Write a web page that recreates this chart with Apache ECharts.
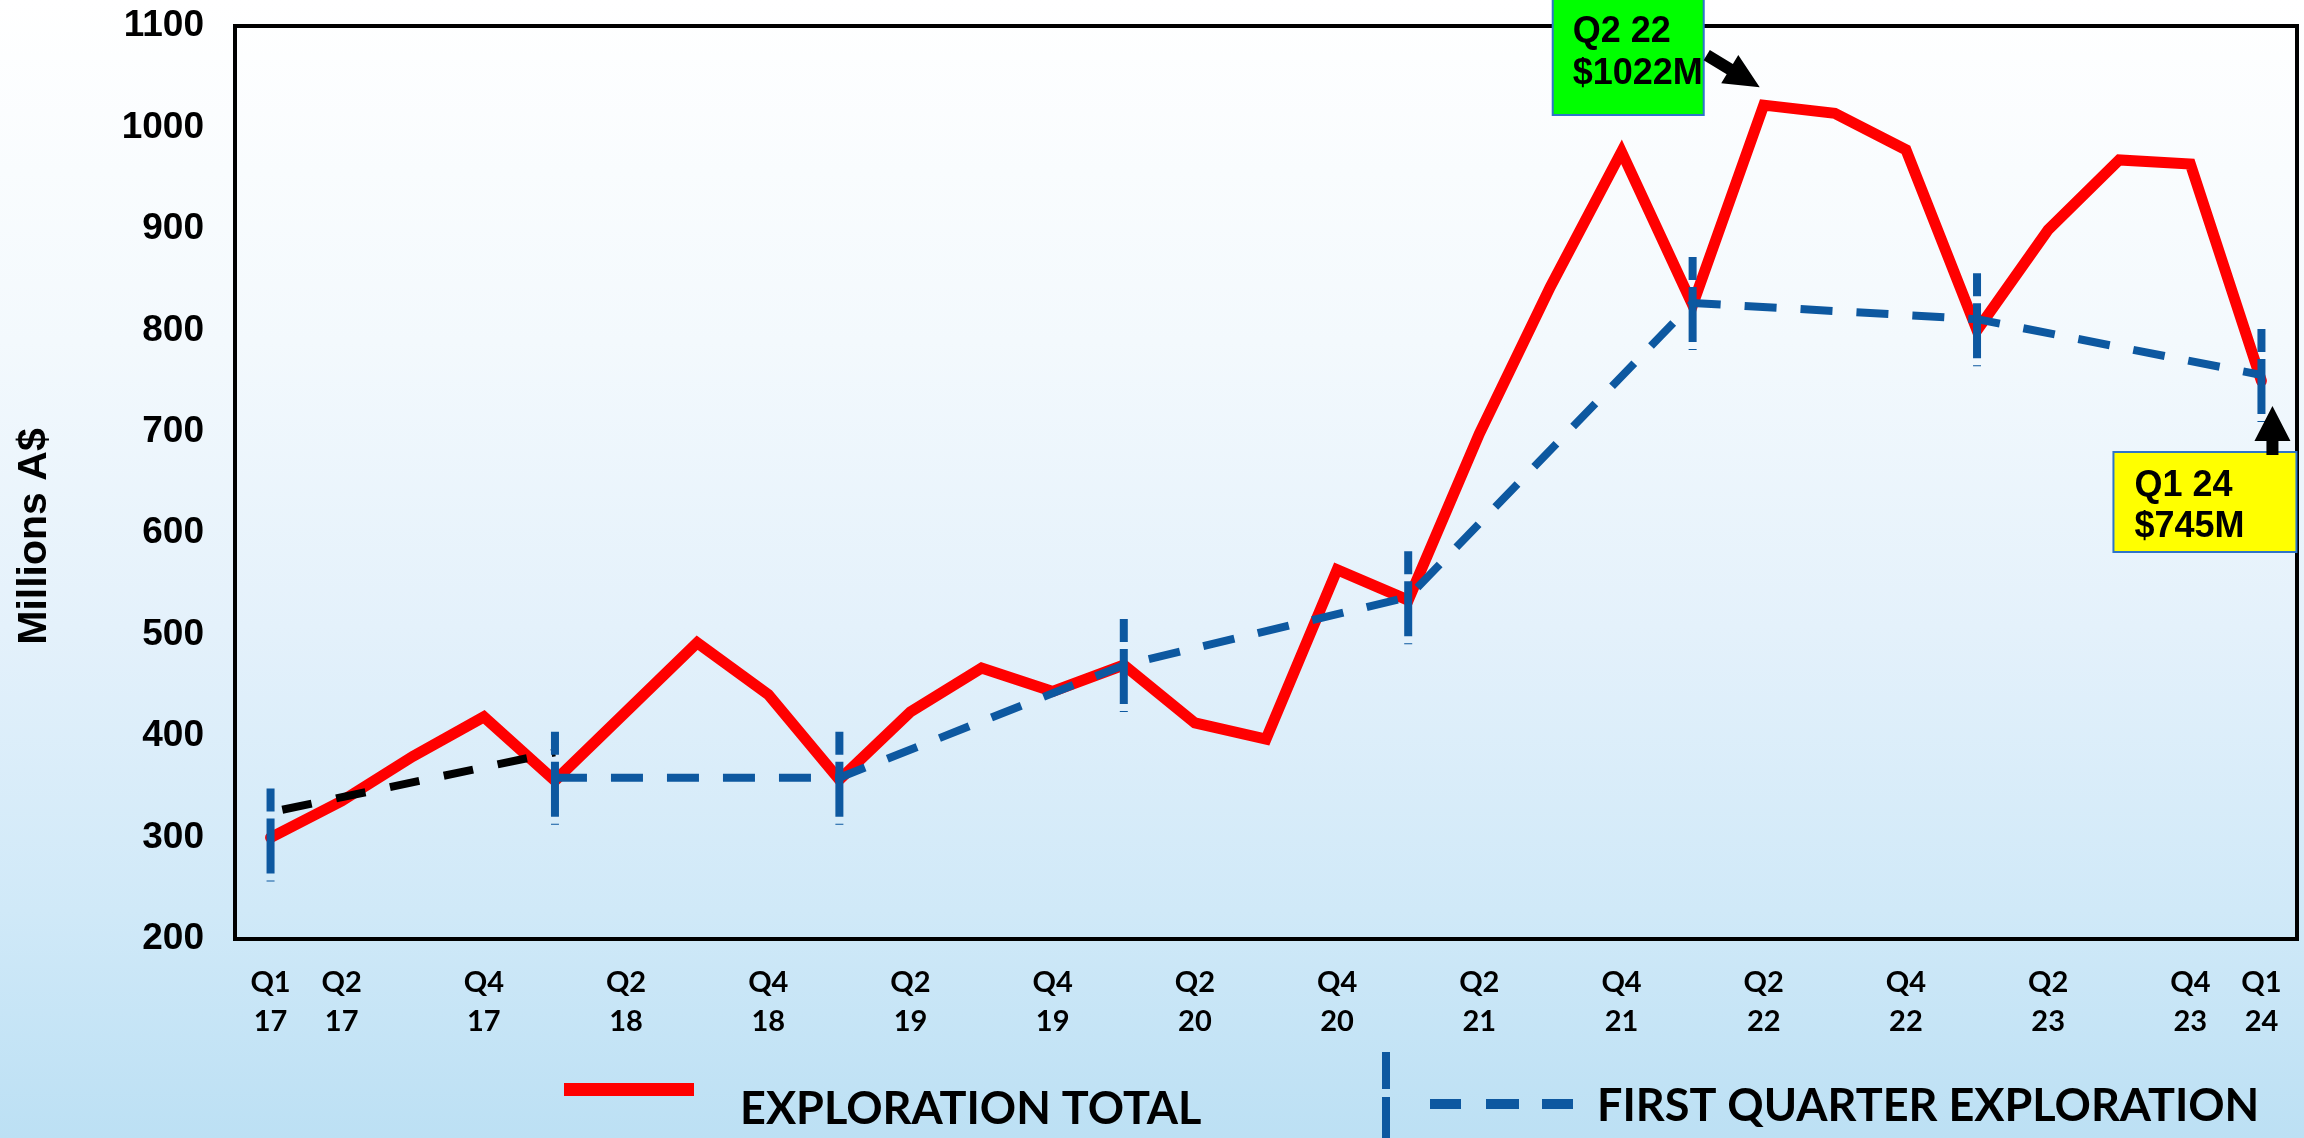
<!DOCTYPE html>
<html>
<head>
<meta charset="utf-8">
<script src="https://cdn.jsdelivr.net/npm/echarts@6/dist/echarts.min.js"></script>
<style>
html,body{margin:0;padding:0;overflow:hidden;background:#fff}
#chart{width:2304px;height:1138px}
</style>
</head>
<body>
<div id="chart"></div>
<script>
// ---- data ----
const categories = ['Q1 17','Q2 17','Q3 17','Q4 17','Q1 18','Q2 18','Q3 18','Q4 18',
  'Q1 19','Q2 19','Q3 19','Q4 19','Q1 20','Q2 20','Q3 20','Q4 20',
  'Q1 21','Q2 21','Q3 21','Q4 21','Q1 22','Q2 22','Q3 22','Q4 22',
  'Q1 23','Q2 23','Q3 23','Q4 23','Q1 24'];
const shownTickLabels = ['Q1 17','Q2 17','Q4 17','Q2 18','Q4 18','Q2 19','Q4 19','Q2 20','Q4 20',
  'Q2 21','Q4 21','Q2 22','Q4 22','Q2 23','Q4 23','Q1 24'];
const explorationTotal = [300,336,380,419,356,424,492,441,
  357,424,467,444,470,413,397,564,
  534,698,843,976,825,1022,1014,978,
  800,899,968,964,750];
const firstQuarterCats = ['Q1 17','Q1 18','Q1 19','Q1 20','Q1 21','Q1 22','Q1 23','Q1 24'];
const firstQuarterValues = [303,359,359,470,537,827,811,756];
const trend2017Cats = ['Q1 17','Q1 18'];
const trend2017Values = [325,384];
const yMin = 200, yMax = 1100, yStep = 100;
const peakNote = {cat:'Q2 22', text:'Q2 22\n$1022M'};
const lastNote = {cat:'Q1 24', text:'Q1 24\n$745M'};

// ---- chart ----
const DARK_BLUE = '#0d58a0';
const LIGHT_BLUE = '#0a72c2';
const chart = echarts.init(document.getElementById('chart'), null, {renderer:'canvas'});

const blueLine = firstQuarterCats.slice(1).map((c,i)=>[c, firstQuarterValues[i+1]]);
const blueMarks = firstQuarterCats.map((c,i)=>[categories.indexOf(c), firstQuarterValues[i]]);
const blackLine = trend2017Cats.map((c,i)=>[c, trend2017Values[i]]);

const option = {
  animation:false,
  backgroundColor:{type:'linear',x:0,y:0,x2:0,y2:1,colorStops:[
    {offset:0,color:'#ffffff'},{offset:0.3,color:'#f3f9fd'},{offset:0.55,color:'#e4f1fb'},
    {offset:0.8,color:'#d0e9f8'},{offset:1,color:'#bce0f4'}]},
  grid:{left:235,right:7,top:26,bottom:199,show:true,borderColor:'#000',borderWidth:4,backgroundColor:'transparent'},
  xAxis:{type:'category',data:categories,boundaryGap:true,
    axisLine:{show:false},axisTick:{show:false},splitLine:{show:false},
    axisLabel:{interval:(idx,val)=>shownTickLabels.indexOf(val)>=0,
      formatter:v=>v.replace(' ','\n'),
      fontFamily:'Lato',fontWeight:'bold',fontSize:29,lineHeight:39,color:'#000',margin:24}},
  yAxis:{type:'value',min:yMin,max:yMax,interval:yStep,
    name:'Millions A$',nameLocation:'middle',nameRotate:90,nameGap:180,
    nameTextStyle:{fontFamily:'Liberation Sans',fontWeight:'bold',fontSize:41,color:'#000',padding:[0,108,0,0]},
    axisLine:{show:false},axisTick:{show:false},splitLine:{show:false},
    axisLabel:{formatter:v=>String(v),fontFamily:'Liberation Sans',fontWeight:'bold',fontSize:37,color:'#000',margin:31}},
  visualMap:{show:false,type:'piecewise',seriesIndex:1,dimension:0,
    pieces:[{lte:20,color:DARK_BLUE},{gt:20,lte:24,color:LIGHT_BLUE},{gt:24,color:DARK_BLUE}]},
  legend:[
    {left:564,top:1047,padding:0,itemWidth:130,itemHeight:13,icon:'rect',selectedMode:false,
     itemStyle:{borderWidth:0},
     formatter:n=>'\n'+n,
     data:[{name:'EXPLORATION TOTAL',itemStyle:{color:'#ff0000',borderWidth:0}}],
     textStyle:{fontFamily:'Lato',fontWeight:'bold',fontSize:45,color:'#000',lineHeight:40,padding:[0,0,0,41]}},
    {left:1382,top:1052,padding:0,itemWidth:191,itemHeight:86,selectedMode:false,
     icon:'path://M0 0H8V37H0Z M0 45H8V86H0Z M48 47H79V57H48Z M104 47H137V57H104Z M160 47H191V57H160Z',
     itemStyle:{borderWidth:0},
     formatter:n=>'\n'+n,
     data:[{name:'FIRST QUARTER EXPLORATION',itemStyle:{color:DARK_BLUE,borderWidth:0}}],
     textStyle:{fontFamily:'Lato',fontWeight:'bold',fontSize:45,color:'#000',lineHeight:22,padding:[0,0,0,19]}}
  ],
  series:[
    {name:'EXPLORATION TOTAL',type:'line',data:explorationTotal,z:2,
     symbol:'none',showSymbol:false,
     lineStyle:{color:'#ff0000',width:11,join:'miter',cap:'round'},
     itemStyle:{color:'#ff0000'}},
    {name:'FIRST QUARTER EXPLORATION',type:'line',data:blueLine,z:3,
     symbol:'none',showSymbol:false,connectNulls:true,
     lineStyle:{color:DARK_BLUE,width:8,type:[32,24]},
     itemStyle:{color:DARK_BLUE}},
    {name:'2017 trend',type:'line',data:blackLine,z:3,symbol:'none',showSymbol:false,
     lineStyle:{color:'#000',width:8,type:[30,25],dashOffset:43}},
    {name:'Q1 markers',type:'custom',data:blueMarks,z:4,
     renderItem:(params,api)=>{
       const p = api.coord([api.value(0),api.value(1)]);
       return {type:'line',shape:{x1:p[0],y1:p[1]-46,x2:p[0],y2:p[1]+47},
         style:{stroke:DARK_BLUE,lineWidth:8,lineDash:[23,7,55,7,3,100],fill:null}};
     }}
  ]
};
chart.setOption(option);

// ---- annotations anchored to data points ----
function ptOf(cat){
  const i = categories.indexOf(cat);
  return chart.convertToPixel({gridIndex:0},[i, explorationTotal[i]]);
}
function arrowPts(tail, tip, headLen, headHalf, shaftHalf){
  const dx = tip[0]-tail[0], dy = tip[1]-tail[1];
  const L = Math.sqrt(dx*dx+dy*dy), ux = dx/L, uy = dy/L, nx = -uy, ny = ux;
  const bx = tip[0]-ux*headLen, by = tip[1]-uy*headLen;
  return [tip,
    [bx+nx*headHalf, by+ny*headHalf],[bx+nx*shaftHalf, by+ny*shaftHalf],
    [tail[0]+nx*shaftHalf, tail[1]+ny*shaftHalf],[tail[0]-nx*shaftHalf, tail[1]-ny*shaftHalf],
    [bx-nx*shaftHalf, by-ny*shaftHalf],[bx-nx*headHalf, by-ny*headHalf]];
}
const pk = ptOf(peakNote.cat);
const ls = ptOf(lastNote.cat);
const font = 'bold 36px "Liberation Sans", Arial, sans-serif';
chart.setOption({graphic:[
  {type:'rect',z:100,shape:{x:pk[0]-211,y:-4,width:151,height:119},
   style:{fill:'#00ff00',stroke:'#2e75c8',lineWidth:2}},
  {type:'text',z:101,x:pk[0]-191,y:11,style:{text:peakNote.text,font:font,fill:'#000',lineHeight:42,textVerticalAlign:'top'}},
  {type:'polygon',z:101,shape:{points:arrowPts([pk[0]-57,pk[1]-50],[pk[0]-4,pk[1]-18],35,16.5,6)},style:{fill:'#000'}},
  {type:'rect',z:100,shape:{x:ls[0]-148,y:ls[1]+71,width:183,height:100},
   style:{fill:'#ffff00',stroke:'#2e75c8',lineWidth:2}},
  {type:'text',z:101,x:ls[0]-127,y:ls[1]+85,style:{text:lastNote.text,font:font,fill:'#000',lineHeight:41,textVerticalAlign:'top'}},
  {type:'polygon',z:101,shape:{points:arrowPts([ls[0]+11,ls[1]+74],[ls[0]+11,ls[1]+25],35,18,6)},style:{fill:'#000'}}
]});
</script>
</body>
</html>
